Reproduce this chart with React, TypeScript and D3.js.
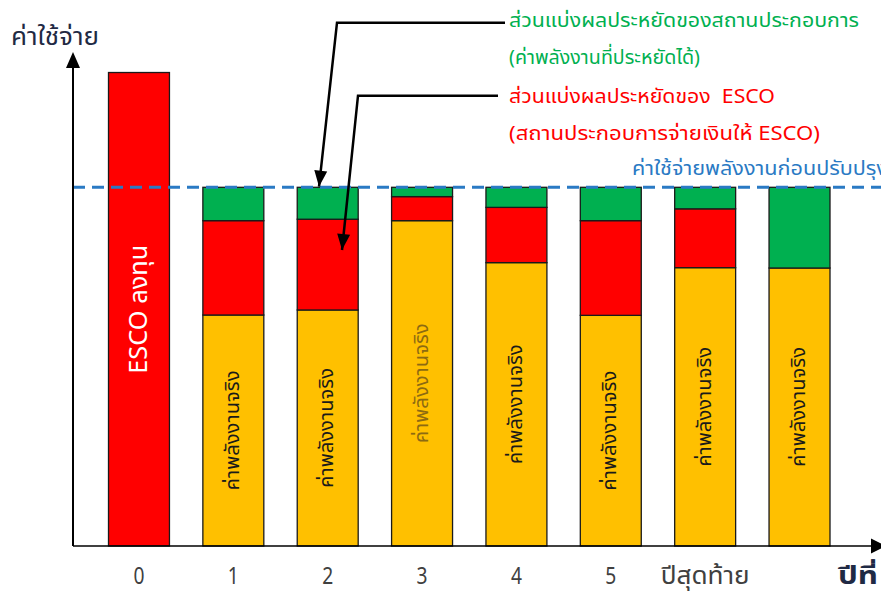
import React from "react";
import * as d3 from "d3";

const categories = ["y0", "y1", "y2", "y3", "y4", "y5", "final", "after"];
const xLabels = ["0", "1", "2", "3", "4", "5", "ปีสุดท้าย", ""];
const investment = [132, 0, 0, 0, 0, 0, 0, 0];
const actualEnergy = [0, 64.4, 65.8, 90.7, 79.0, 64.3, 77.6, 77.5];
const escoShare = [0, 26.3, 25.3, 6.7, 15.4, 26.4, 16.4, 0];
const ownerShare = [0, 9.3, 8.9, 2.6, 5.6, 9.3, 6.0, 22.5];
const baselineCost = 100;

const yTitle = "ค่าใช้จ่าย";
const xTitle = "ปีที่";
const baselineLabel = "ค่าใช้จ่ายพลังงานก่อนปรับปรุง";
const investLabel = "ESCO ลงทุน";
const actualLabel = "ค่าพลังงานจริง";
const ownerNote = ["ส่วนแบ่งผลประหยัดของสถานประกอบการ", "(ค่าพลังงานที่ประหยัดได้)"];
const escoNote = ["ส่วนแบ่งผลประหยัดของ  ESCO", "(สถานประกอบการจ่ายเงินให้ ESCO)"];

const keys = ["investment", "actual", "esco", "owner"];
const colors: Record<string, string> = {
  investment: "#FF0000",
  actual: "#FFC000",
  esco: "#FF0000",
  owner: "#00B050",
};

const FONT = "Tahoma, 'Leelawadee UI', 'Noto Sans Thai', 'Noto Sans', sans-serif";

export default function App() {
  const W = 881;
  const H = 594;
  const axisX = 73;
  const axisY = 546;

  const rows = categories.map((c, i) => ({
    cat: c,
    investment: investment[i],
    actual: actualEnergy[i],
    esco: escoShare[i],
    owner: ownerShare[i],
  }));
  const series = d3.stack<any>().keys(keys)(rows);

  const x = d3
    .scaleBand<string>()
    .domain(categories)
    .range([108.5, 830])
    .paddingInner(0.354)
    .paddingOuter(0);
  const y = d3.scaleLinear().domain([0, baselineCost]).range([axisY, 187.3]);

  const arrowHead = (tx: number, ty: number, fx: number, fy: number, len = 15, half = 6) => {
    const a = Math.atan2(ty - fy, tx - fx);
    const bx = tx - len * Math.cos(a);
    const by = ty - len * Math.sin(a);
    const px = -Math.sin(a) * half;
    const py = Math.cos(a) * half;
    return `M${tx},${ty}L${bx + px},${by + py}L${bx - px},${by - py}Z`;
  };

  const line = d3.line();
  const lead1: [number, number][] = [
    [505, 22.7],
    [337, 22.7],
    [319, 186.7],
  ];
  const lead2: [number, number][] = [
    [498, 95.7],
    [358, 95.7],
    [342, 250],
  ];

  const notes = [
    { t: ownerNote[0], y: 27, len: 350, c: "#00B050" },
    { t: ownerNote[1], y: 64, len: 191, c: "#00B050" },
    { t: escoNote[0], y: 103, len: 266, c: "#FF0000" },
    { t: escoNote[1], y: 140, len: 311, c: "#FF0000" },
  ];

  return (
    <svg
      width={W}
      height={H}
      style={{ position: "absolute", left: 0, top: 0, display: "block", background: "#fff" }}
      fontFamily={FONT}
    >
      {/* bars */}
      {series.map((s) => (
        <g key={s.key}>
          {s.map((d, i) =>
            d[1] - d[0] > 0 ? (
              <rect
                key={i}
                x={x(categories[i])}
                width={x.bandwidth()}
                y={y(d[1])}
                height={y(d[0]) - y(d[1])}
                fill={colors[s.key as string]}
                stroke="#1a1a1a"
                strokeWidth={1.3}
              />
            ) : null
          )}
        </g>
      ))}

      {/* labels inside bars */}
      {series
        .filter((s) => s.key === "investment" || s.key === "actual")
        .map((s) =>
          s.map((d, i) => {
            if (d[1] - d[0] <= 0) return null;
            const cx = (x(categories[i]) as number) + x.bandwidth() / 2;
            const cy = (y(d[0]) + y(d[1])) / 2;
            const isInv = s.key === "investment";
            return (
              <text
                key={s.key + i}
                transform={`translate(${cx},${cy}) rotate(-90)`}
                textAnchor="middle"
                dominantBaseline="central"
                fontSize={isInv ? 25 : 19}
                textLength={isInv ? 129 : 120}
                lengthAdjust="spacingAndGlyphs"
                fill={isInv ? "#ffffff" : i === 3 ? "#8c6a12" : "#1a1a1a"}
              >
                {isInv ? investLabel : actualLabel}
              </text>
            );
          })
        )}

      {/* baseline dashed line */}
      <line
        x1={axisX}
        x2={W}
        y1={y(baselineCost)}
        y2={y(baselineCost)}
        stroke="#2A7AC4"
        strokeWidth={3}
        strokeDasharray="12 7"
      />
      <text x={632} y={175} fontSize={20} textLength={256} lengthAdjust="spacingAndGlyphs" fill="#2A7AC4">
        {baselineLabel}
      </text>

      {/* axes */}
      <line x1={axisX} x2={axisX} y1={axisY} y2={60} stroke="#000" strokeWidth={2} />
      <path d={arrowHead(axisX, 52, axisX, 100, 16, 7)} fill="#000" />
      <line x1={axisX} x2={874} y1={axisY} y2={axisY} stroke="#000" strokeWidth={1.6} />
      <path d={arrowHead(886, axisY, 800, axisY, 15, 7.5)} fill="#000" />

      {/* x labels */}
      {categories.map((c, i) =>
        xLabels[i] ? (
          <text
            key={c}
            x={(x(c) as number) + x.bandwidth() / 2}
            y={584}
            textAnchor="middle"
            fontSize={24}
            textLength={xLabels[i].length > 1 ? 89 : 11}
            lengthAdjust="spacingAndGlyphs"
            fill="#404040"
          >
            {xLabels[i]}
          </text>
        ) : null
      )}
      <text
        x={858}
        y={584}
        textAnchor="middle"
        fontSize={24}
        fontWeight="bold"
        textLength={40}
        lengthAdjust="spacingAndGlyphs"
        fill="#1f2a44"
      >
        {xTitle}
      </text>
      <text x={11} y={45} fontSize={25} textLength={88} lengthAdjust="spacingAndGlyphs" fill="#1f2a44">
        {yTitle}
      </text>

      {/* annotations */}
      {notes.map((n, i) => (
        <text
          key={i}
          x={509}
          y={n.y}
          fontSize={20}
          fill={n.c}
          textLength={n.len}
          lengthAdjust="spacingAndGlyphs"
          style={{ whiteSpace: "pre" }}
        >
          {n.t}
        </text>
      ))}

      <path d={line(lead1) as string} fill="none" stroke="#000" strokeWidth={2.5} />
      <path d={arrowHead(lead1[2][0], lead1[2][1], lead1[1][0], lead1[1][1], 16, 6.5)} fill="#000" />
      <path d={line(lead2) as string} fill="none" stroke="#000" strokeWidth={2.5} />
      <path d={arrowHead(lead2[2][0], lead2[2][1], lead2[1][0], lead2[1][1], 16, 6.5)} fill="#000" />
    </svg>
  );
}
